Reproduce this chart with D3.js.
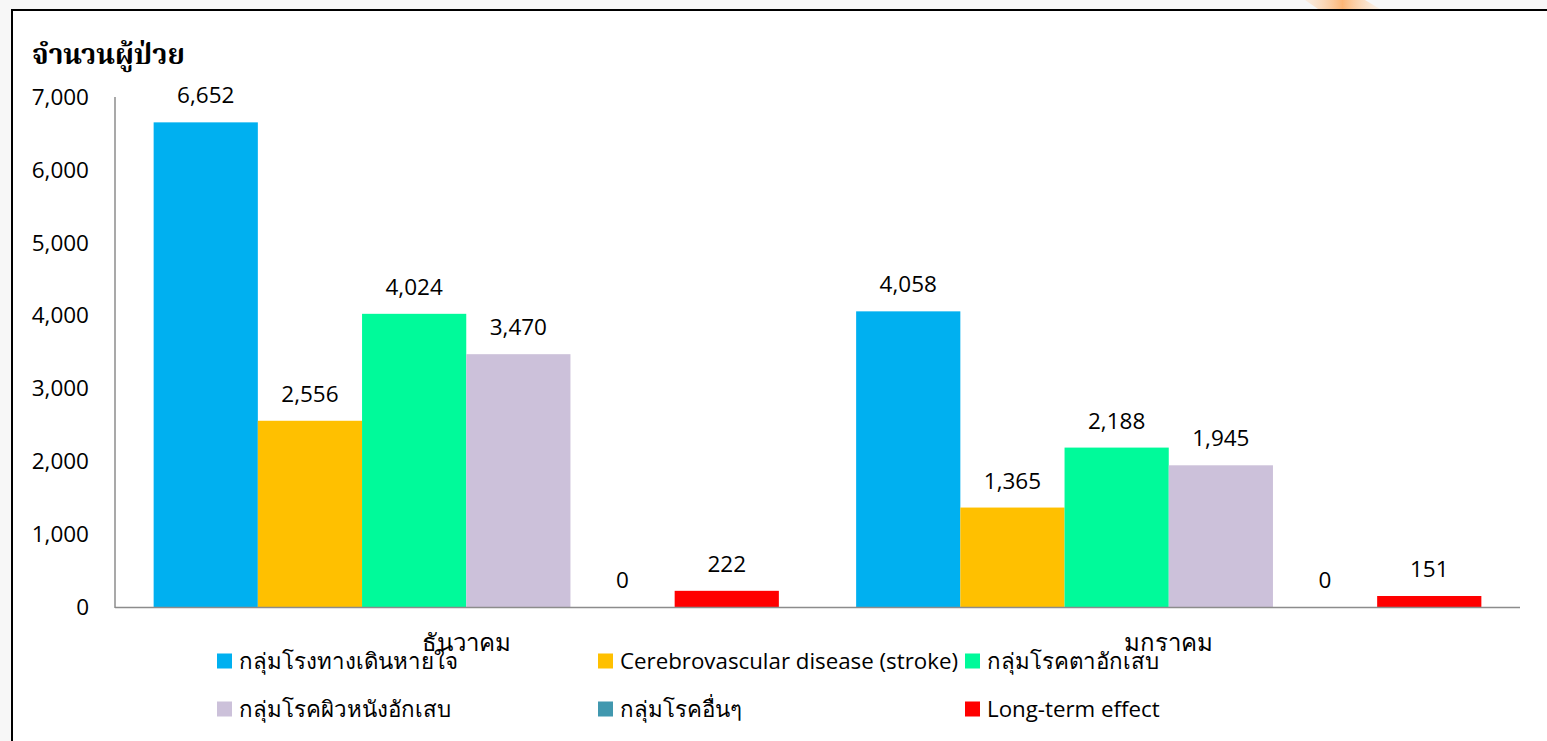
<!DOCTYPE html>
<html><head><meta charset="utf-8">
<script src="https://cdn.jsdelivr.net/npm/d3@7"></script>
<style>body{margin:0;background:#f7f7f7;}svg{display:block;}</style>
</head><body>
<svg id="c" width="1547" height="741"></svg>
<script>
const categories = ["ธันวาคม", "มกราคม"];
const seriesNames = ["กลุ่มโรงทางเดินหายใจ", "Cerebrovascular disease (stroke)", "กลุ่มโรคตาอักเสบ", "กลุ่มโรคผิวหนังอักเสบ", "กลุ่มโรคอื่นๆ", "Long-term effect"];
const seriesColors = ["#00B0F0", "#FFC000", "#00FA9A", "#CCC1DA", "#4198AF", "#FF0000"];
const valuesDec = [6652, 2556, 4024, 3470, 0, 222];
const valuesJan = [4058, 1365, 2188, 1945, 0, 151];
const yTicks = [0, 1000, 2000, 3000, 4000, 5000, 6000, 7000];
const yTitle = "จำนวนผู้ป่วย";

const values = [valuesDec, valuesJan];
const svg = d3.select("#c");
const font = "'Open Sans','Noto Sans',sans-serif";

// frame
svg.append("rect").attr("x", 12).attr("y", 10).attr("width", 1540).attr("height", 740)
  .attr("fill", "#fff").attr("stroke", "#000").attr("stroke-width", 2);
// faint watermark
const g0 = svg.append("defs").append("linearGradient").attr("id","wm").attr("x1","0").attr("x2","1");
g0.append("stop").attr("offset","0").attr("stop-color","#ffd6b0").attr("stop-opacity",0.3);
g0.append("stop").attr("offset","0.5").attr("stop-color","#ff9a40").attr("stop-opacity",0.7);
g0.append("stop").attr("offset","1").attr("stop-color","#ffe0c0").attr("stop-opacity",0.3);
svg.append("path").attr("d","M1305,0 L1365,0 L1380,9 L1318,9 Z").attr("fill","url(#wm)");

const x0 = 115, x1 = 1520, yTop = 97, yBot = 607;
const x = d3.scaleBand().domain(categories).range([x0, x1]).paddingInner(0.11).paddingOuter(0.055);
const xs = d3.scaleBand().domain(d3.range(seriesNames.length)).range([0, x.bandwidth()]).padding(0);
const y = d3.scaleLinear().domain([0, 7000]).range([yBot, yTop]);

// y tick labels
svg.append("g").selectAll("text").data(yTicks).join("text")
  .attr("x", 89).attr("y", d => y(d)).attr("dy", "0.35em")
  .attr("text-anchor", "end").attr("font-family", font).attr("font-size", 22.5).attr("fill", "#000")
  .text(d => d3.format(",")(d));

// bars
categories.forEach((c, ci) => {
  const g = svg.append("g").attr("transform", `translate(${x(c)},0)`);
  g.selectAll("rect").data(values[ci]).join("rect")
    .attr("x", (d, i) => xs(i)).attr("width", xs.bandwidth())
    .attr("y", d => y(d)).attr("height", d => yBot - y(d))
    .attr("fill", (d, i) => seriesColors[i]);
  g.selectAll("text").data(values[ci]).join("text")
    .attr("x", (d, i) => xs(i) + xs.bandwidth() / 2).attr("y", d => y(d) - 19)
    .attr("text-anchor", "middle").attr("font-family", font).attr("font-size", 22.5).attr("fill", "#000")
    .text(d => d3.format(",")(d));
});

// axes lines
svg.append("line").attr("x1", x0).attr("x2", x0).attr("y1", yTop).attr("y2", yBot + 1).attr("stroke", "#8c8c8c").attr("stroke-width", 1.5);
svg.append("line").attr("x1", x0).attr("x2", x1).attr("y1", yBot + 0.5).attr("y2", yBot + 0.5).attr("stroke", "#8c8c8c").attr("stroke-width", 1.5);

// category labels
svg.append("g").selectAll("text").data(categories).join("text")
  .attr("x", d => x(d) + x.bandwidth() / 2).attr("y", 651)
  .attr("text-anchor", "middle").attr("font-family", font).attr("font-size", 24).attr("fill", "#000")
  .text(d => d);

// title
svg.append("text").attr("x", 32).attr("y", 64).attr("font-family", "'Noto Serif Thai','Noto Sans Thai',serif")
  .attr("font-weight", "bold").attr("font-size", 28).attr("fill", "#000").text(yTitle);

// legend
const legX = [217, 598, 965], legY = [661, 709];
const lg = svg.append("g").selectAll("g").data(seriesNames).join("g")
  .attr("transform", (d, i) => `translate(${legX[i % 3]},${legY[Math.floor(i / 3)]})`);
lg.append("rect").attr("x", 0).attr("y", -7.5).attr("width", 15).attr("height", 15).attr("fill", (d, i) => seriesColors[i]);
lg.append("text").attr("x", 22).attr("y", 0).attr("dy", "0.35em").attr("font-family", font).attr("font-size", 22.3).attr("fill", "#000").text(d => d);
</script>
</body></html>
